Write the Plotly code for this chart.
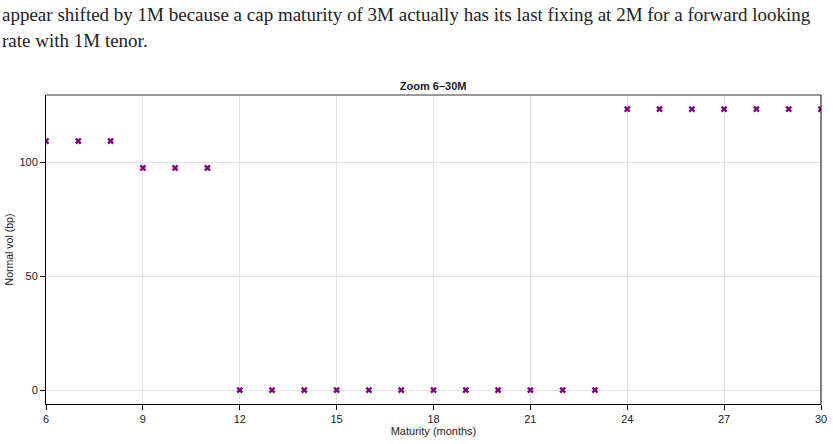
import plotly.graph_objects as go

months = list(range(6, 31))
vols = [109.2, 109.2, 109.2, 97.4, 97.4, 97.4] + [0.0] * 12 + [123.2] * 7
x_ticks = [6, 9, 12, 15, 18, 21, 24, 27, 30]
y_ticks = [0, 50, 100]

fig = go.Figure()
fig.add_trace(go.Scatter(
    x=months, y=vols, mode="markers",
    marker=dict(symbol="x", size=6, color="#800080", line=dict(width=0)),
    showlegend=False,
))

fig.update_layout(
    width=833, height=444,
    margin=dict(l=46, r=12, t=95, b=40, autoexpand=False),
    paper_bgcolor="white", plot_bgcolor="white",
    font=dict(family="Liberation Sans, Arial, sans-serif", size=11, color="#222"),
    title=dict(text="<b>Zoom 6–30M</b>", x=0.52, xanchor="center", y=1 - 86 / 444,
               yanchor="middle", font=dict(size=11, color="#222")),
    xaxis=dict(
        range=[6, 30], tickvals=x_ticks, showgrid=True, gridcolor="#e3e3e3",
        showline=True, linecolor="black", linewidth=1, mirror=False, automargin=False,
        ticks="outside", ticklen=5, tickcolor="black", zeroline=False,
        tickfont=dict(size=11),
        title=dict(text="Maturity (months)", font=dict(size=11), standoff=0),
    ),
    yaxis=dict(
        range=[-6.1, 129.4], tickvals=y_ticks, showgrid=True, gridcolor="#e3e3e3",
        showline=True, linecolor="black", linewidth=1, mirror=False, automargin=False,
        ticks="outside", ticklen=5, tickcolor="black", zeroline=False,
        tickfont=dict(size=11),
        title=dict(text="Normal vol (bp)", font=dict(size=10.5), standoff=3),
    ),
)

# frame: top (gray) and right (black)
fig.add_shape(type="line", xref="paper", yref="paper", x0=0, x1=1, y0=1, y1=1,
              line=dict(color="#777", width=1.5))
fig.add_shape(type="line", xref="paper", yref="paper", x0=1, x1=1, y0=0, y1=1,
              line=dict(color="black", width=1))

# surrounding page text
fig.add_annotation(
    text="appear shifted by 1M because a cap maturity of 3M actually has its last fixing at 2M for a forward looking",
    xref="paper", yref="paper", x=-46 / 775, xanchor="left",
    y=1 + (95 - 14) / 309, yanchor="middle", showarrow=False,
    font=dict(family="Liberation Serif, DejaVu Serif, serif", size=19, color="#222"),
)
fig.add_annotation(
    text="rate with 1M tenor.",
    xref="paper", yref="paper", x=-46 / 775, xanchor="left",
    y=1 + (95 - 40) / 309, yanchor="middle", showarrow=False,
    font=dict(family="Liberation Serif, DejaVu Serif, serif", size=19, color="#222"),
)

fig.write_html("out.html")
